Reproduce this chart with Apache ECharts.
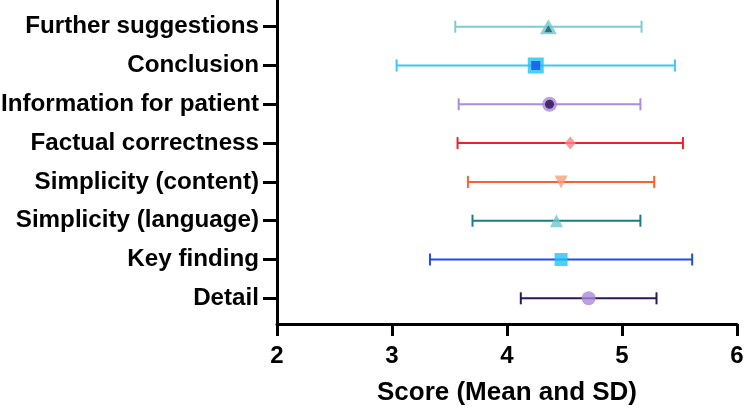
<!DOCTYPE html>
<html>
<head>
<meta charset="utf-8">
<script src="https://cdn.jsdelivr.net/npm/echarts@6/dist/echarts.min.js"></script>
<style>html,body{margin:0;padding:0;background:#fff}#c{width:750px;height:409px}</style>
</head>
<body>
<div id="c"></div>
<script>
// Data (bottom to top)
const categories = ['Detail', 'Key finding', 'Simplicity (language)', 'Simplicity (content)', 'Factual correctness', 'Information for patient', 'Conclusion', 'Further suggestions'];
const means = [4.71, 4.47, 4.43, 4.47, 4.55, 4.37, 4.25, 4.36];
const sds = [0.59, 1.14, 0.73, 0.81, 0.98, 0.79, 1.21, 0.81];
const xTicks = [2, 3, 4, 5, 6];
const yPositions = [1, 2, 3, 4, 5, 6, 7, 8];

// Styles
const barColors = ['#2a1858', '#1e4fe0', '#1e7a86', '#ff5f2a', '#f0202a', '#a88de0', '#3cc8f2', '#7ecbd3'];
const markerColors = ['#a98ad8', '#22c3f5', '#6ccacc', '#f9a07e', '#f58585', '#a98ad8', '#1ec2f6', '#6fc6cc'];
const markerSymbols = ['circle', 'rect', 'triangle', 'triangle', 'diamond', 'circle', 'rect', 'triangle'];
const markerRotate = [0, 0, 0, 180, 0, 0, 0, 0];
const markerSizes = [[14, 14], [13, 13], [13, 13], [13, 13], [11, 13], [15, 15], [16, 16], [17, 15]];
const innerColors = [null, null, null, null, null, '#2a1050', '#1a4ee6', '#155e66'];
const innerSizes = [null, null, null, null, null, [9, 9], [9, 9], [8, 7]];
const innerOffsets = [null, null, null, null, null, [0, 0], [0, 0], [0, 2]];

const FONT = 'Liberation Sans';

const errData = means.map((m, i) => [yPositions[i], m - sds[i], m + sds[i]]);
const outerData = means.map((m, i) => ({
  value: [m, yPositions[i]],
  symbol: markerSymbols[i],
  symbolSize: markerSizes[i],
  symbolRotate: markerRotate[i],
  itemStyle: { color: markerColors[i] }
}));
const innerData = [];
means.forEach((m, i) => {
  if (innerColors[i]) innerData.push({
    value: [m, yPositions[i]],
    symbol: markerSymbols[i],
    symbolSize: innerSizes[i],
    symbolOffset: innerOffsets[i],
    itemStyle: { color: innerColors[i] }
  });
});

const chart = echarts.init(document.getElementById('c'), null, { renderer: 'canvas' });
chart.setOption({
  animation: false,
  grid: { left: 277, right: 13, top: 0, bottom: 85, containLabel: false, outerBoundsMode: 'none' },
  xAxis: {
    type: 'value', min: 2, max: 6, interval: 1,
    name: 'Score (Mean and SD)', nameLocation: 'middle', nameGap: 56,
    nameTextStyle: { fontFamily: FONT, fontWeight: 'bold', fontSize: 26, color: '#000' },
    axisLine: { show: true, lineStyle: { color: '#000', width: 3 } },
    axisTick: { show: true, length: 12, lineStyle: { color: '#000', width: 3 } },
    axisLabel: { fontFamily: FONT, fontWeight: 'bold', fontSize: 24, color: '#000', margin: 20,
      formatter: v => xTicks.includes(v) ? String(v) : '' },
    splitLine: { show: false }
  },
  yAxis: {
    type: 'value', min: 0.338, max: 8.688,
    axisLine: { show: true, lineStyle: { color: '#000', width: 3 } },
    axisTick: { show: true, length: 14, customValues: yPositions, lineStyle: { color: '#000', width: 3 } },
    axisLabel: { fontFamily: FONT, fontWeight: 'bold', fontSize: 24.2, color: '#000', margin: 18,
      customValues: yPositions,
      formatter: v => categories[Math.round(v) - 1] || '' },
    splitLine: { show: false }
  },
  series: [
    {
      type: 'custom',
      data: errData,
      encode: { x: [1, 2], y: 0 },
      renderItem: function (params, api) {
        const i = params.dataIndex;
        const y = api.value(0);
        const lo = api.coord([api.value(1), y]);
        const hi = api.coord([api.value(2), y]);
        const h = 6;
        const style = { stroke: barColors[i], lineWidth: 2 };
        return {
          type: 'group',
          children: [
            { type: 'line', shape: { x1: lo[0], y1: lo[1], x2: hi[0], y2: hi[1] }, style: style },
            { type: 'line', shape: { x1: lo[0], y1: lo[1] - h, x2: lo[0], y2: lo[1] + h }, style: style },
            { type: 'line', shape: { x1: hi[0], y1: hi[1] - h, x2: hi[0], y2: hi[1] + h }, style: style }
          ]
        };
      },
      z: 2
    },
    { type: 'scatter', data: outerData, z: 3 },
    { type: 'scatter', data: innerData, z: 4 }
  ]
});
</script>
</body>
</html>
